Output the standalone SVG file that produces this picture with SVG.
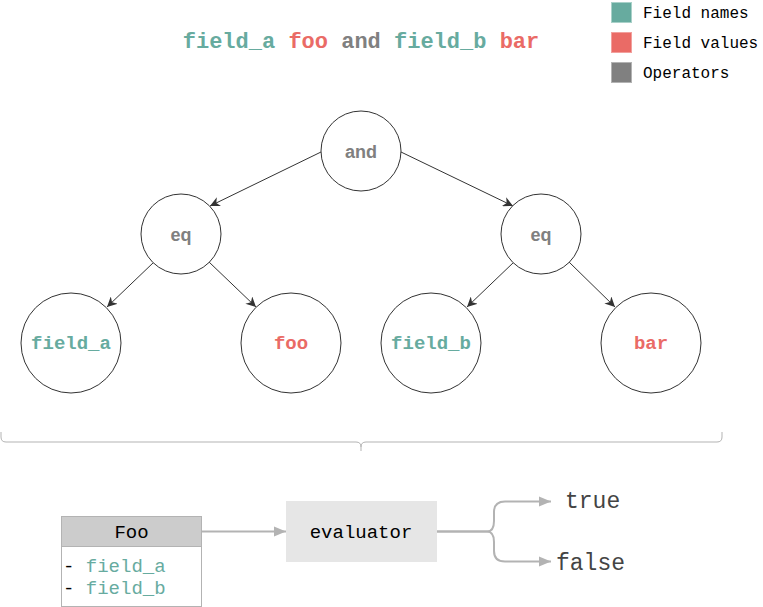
<svg xmlns="http://www.w3.org/2000/svg" width="763" height="607" viewBox="0 0 763 607">
<style>
.mono{font-family:"Liberation Mono","DejaVu Sans Mono",monospace}
.sans{font-family:"Liberation Sans",Arial,sans-serif}
.node{fill:#fff;stroke:#333;stroke-width:1}
.edge{fill:none;stroke:#333;stroke-width:1;marker-end:url(#ah)}
.flow{fill:none;stroke:#B3B3B3;stroke-width:2;marker-end:url(#ahg)}
.teal{fill:#67AB9F}
.red{fill:#EA6B66}
.grey{fill:#808080}
</style>
<defs>
<marker id="ah" markerUnits="userSpaceOnUse" markerWidth="12" markerHeight="10" viewBox="0 0 12 10" refX="10" refY="5" orient="auto">
<path d="M0,0 L10,5 L0,10 L3,5 Z" fill="#333"/>
</marker>
<marker id="ahg" markerUnits="userSpaceOnUse" markerWidth="14" markerHeight="12" viewBox="0 0 14 12" refX="12" refY="6" orient="auto">
<path d="M0,1 L12,6 L0,11 Z" fill="#B3B3B3"/>
</marker>
</defs>
<rect width="763" height="607" fill="#fff"/>
<g id="title">
<text x="361" y="48" text-anchor="middle" class="mono" font-size="22" font-weight="bold"><tspan class="teal">field_a</tspan> <tspan class="red">foo</tspan> <tspan class="grey">and</tspan> <tspan class="teal">field_b</tspan> <tspan class="red">bar</tspan></text>
</g>
<g id="legend">
<rect x="611.5" y="2.5" width="20" height="20" fill="#67AB9F" stroke="#A9D1C9"/>
<rect x="611.5" y="32.5" width="20" height="20" fill="#EA6B66" stroke="#F2A09D"/>
<rect x="611.5" y="62.5" width="20" height="20" fill="#808080" stroke="#B3B3B3"/>
<text x="643" y="18" class="mono" font-size="16" fill="#000">Field names</text>
<text x="643" y="48" class="mono" font-size="16" fill="#000">Field values</text>
<text x="643" y="78" class="mono" font-size="16" fill="#000">Operators</text>
</g>
<g id="edges">
<line class="edge" x1="321" y1="152" x2="210" y2="206"/>
<line class="edge" x1="401" y1="152" x2="513" y2="206"/>
<line class="edge" x1="154" y1="262" x2="107" y2="307"/>
<line class="edge" x1="209" y1="262" x2="256" y2="307"/>
<line class="edge" x1="514" y1="262" x2="467" y2="307"/>
<line class="edge" x1="569" y1="262" x2="615" y2="307"/>
</g>
<g id="and">
<circle class="node" cx="361" cy="151" r="40"/>
<text x="361" y="158" text-anchor="middle" class="sans grey" font-size="18" font-weight="bold">and</text>
</g>
<g id="eq-left">
<circle class="node" cx="181" cy="234" r="40"/>
<text x="181" y="241" text-anchor="middle" class="sans grey" font-size="18" font-weight="bold">eq</text>
</g>
<g id="eq-right">
<circle class="node" cx="541" cy="234" r="40"/>
<text x="541" y="241" text-anchor="middle" class="sans grey" font-size="18" font-weight="bold">eq</text>
</g>
<g id="field_a">
<circle class="node" cx="71" cy="343" r="50"/>
<text x="71" y="349" text-anchor="middle" class="mono teal" font-size="19" font-weight="bold">field_a</text>
</g>
<g id="foo">
<circle class="node" cx="291" cy="343" r="50"/>
<text x="291" y="349" text-anchor="middle" class="mono red" font-size="19" font-weight="bold">foo</text>
</g>
<g id="field_b">
<circle class="node" cx="431" cy="343" r="50"/>
<text x="431" y="349" text-anchor="middle" class="mono teal" font-size="19" font-weight="bold">field_b</text>
</g>
<g id="bar">
<circle class="node" cx="651" cy="343" r="50"/>
<text x="651" y="349" text-anchor="middle" class="mono red" font-size="19" font-weight="bold">bar</text>
</g>
<g id="brace">
<path d="M1,432 v5 q0,5 5,5 H356 q5,0 5,5 q0,-5 5,-5 H717 q5,0 5,-5 v-5 M361,447 v4" fill="none" stroke="#B3B3B3" stroke-width="1"/>
</g>
<g id="Foo">
<rect x="61.5" y="516.5" width="140" height="30" fill="#CCCCCC" stroke="#B3B3B3"/>
<rect x="61.5" y="546.5" width="140" height="60" fill="#fff" stroke="#B3B3B3"/>
<text x="131.5" y="538" text-anchor="middle" class="mono" font-size="19" fill="#000">Foo</text>
<text x="63" y="572" class="mono" font-size="19" fill="#000">- <tspan class="teal">field_a</tspan></text>
<text x="63" y="594" class="mono" font-size="19" fill="#000">- <tspan class="teal">field_b</tspan></text>
</g>
<g id="evaluator">
<rect x="286.5" y="501.5" width="150" height="60" fill="#E6E6E6" stroke="#E6E6E6"/>
<text x="361" y="538" text-anchor="middle" class="mono" font-size="19" fill="#000">evaluator</text>
</g>
<g id="flow">
<line class="flow" x1="202" y1="531.5" x2="286" y2="531.5"/>
<path class="flow" d="M437,531.5 H487 Q494,531.5 494,521 V512 Q494,501.5 505,501.5 H551"/>
<path class="flow" d="M437,531.5 H487 Q494,531.5 494,542 V551 Q494,561.5 505,561.5 H551"/>
</g>
<g id="results">
<text x="565" y="508" class="mono" font-size="23" fill="#444">true</text>
<text x="556" y="570" class="mono" font-size="23" fill="#444">false</text>
</g>
</svg>
